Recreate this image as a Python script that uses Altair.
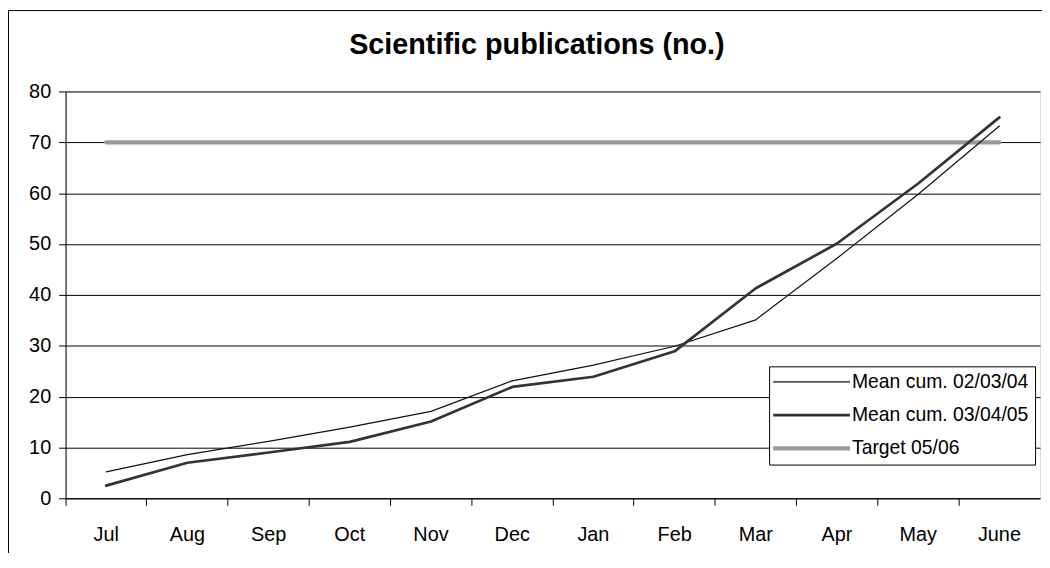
import altair as alt
import pandas as pd

months = ["Jul", "Aug", "Sep", "Oct", "Nov", "Dec", "Jan", "Feb", "Mar", "Apr", "May", "June"]
mean_020304 = [5.2, 8.6, 11.2, 14.0, 17.1, 23.1, 26.2, 29.9, 35.1, 47.2, 59.8, 73.2]
mean_030405 = [2.5, 7.0, 9.0, 11.1, 15.1, 21.9, 23.9, 28.9, 41.3, 50.1, 61.9, 74.9]
target_0506 = [70, 70, 70, 70, 70, 70, 70, 70, 70, 70, 70, 70]
series_names = ["Mean cum. 02/03/04", "Mean cum. 03/04/05", "Target 05/06"]
series_colors = ["#111111", "#333333", "#999999"]
series_widths = [1.2, 4.2, 6]
y_ticks = [0, 10, 20, 30, 40, 50, 60, 70, 80]

FONT = "Liberation Sans"

rows = []
for name, vals in [(series_names[2], target_0506), (series_names[0], mean_020304), (series_names[1], mean_030405)]:
    for m, v in zip(months, vals):
        rows.append({"month": m, "value": v, "series": name})
df = pd.DataFrame(rows)

legend_kw = dict(
    title=None, orient="none", legendX=709, legendY=277,
    strokeColor="black", fillColor="white", padding=6,
    labelFont=FONT, labelFontSize=19.5, labelColor="black", labelLimit=400,
    symbolType="M-6.45,0H6.45", symbolSize=144, symbolOffset=27, labelOffset=31,
    rowPadding=12.5,
)

lines = alt.Chart(df).mark_line(strokeCap="round", strokeJoin="round").encode(
    x=alt.X("month:N", sort=months, bandPosition=0.5,
            scale=alt.Scale(type="band", paddingInner=0, paddingOuter=0),
            axis=alt.Axis(title=None, bandPosition=0, grid=False,
                          tickSize=7, tickColor="black", domainColor="black",
                          labelAngle=0, labelFontSize=20, labelPadding=20,
                          labelColor="black", labelFont=FONT)),
    y=alt.Y("value:Q", scale=alt.Scale(domain=[0, 80], nice=False),
            axis=alt.Axis(values=y_ticks, title=None, grid=True, gridColor="black",
                          gridOpacity=1, gridWidth=1, tickSize=7, tickColor="black",
                          domainColor="black", labelFontSize=20, labelPadding=8,
                          labelColor="black", labelFont=FONT)),
    color=alt.Color("series:N", scale=alt.Scale(domain=series_names, range=series_colors),
                    legend=alt.Legend(**legend_kw)),
    strokeWidth=alt.StrokeWidth("series:N", scale=alt.Scale(domain=series_names, range=series_widths),
                                legend=alt.Legend(**legend_kw)),
)

frame = alt.Chart(pd.DataFrame({"a": [0]})).mark_rect(
    fill="white", fillOpacity=0, stroke="black", strokeWidth=1
).encode(x=alt.value(-57.5), x2=alt.value(1200), y=alt.value(-81.5), y2=alt.value(700))

chart = alt.layer(frame, lines).properties(
    width=982, height=410,
    title=alt.Title("Scientific publications (no.)", fontSize=29, font=FONT, fontWeight="bold",
                    color="black", anchor="middle", dx=-16, dy=64, offset=14),
    autosize=alt.AutoSizeParams(type="none"),
    padding={"left": 58, "top": 82, "right": 2, "bottom": 53},
).configure_view(stroke="#808080", strokeWidth=1).configure(background="white")

chart.save("out.html", embed_options={"renderer": "svg", "actions": False})
